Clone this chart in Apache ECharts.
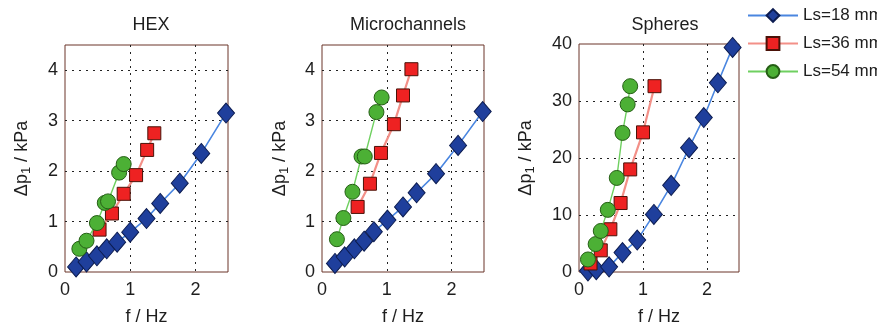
<!DOCTYPE html>
<html><head><meta charset="utf-8">
<script src="https://cdn.jsdelivr.net/npm/echarts@6/dist/echarts.min.js"></script>
<style>html,body{margin:0;padding:0;background:#fff}#c{width:877px;height:331px}</style>
</head><body><div id="c"></div>
<script>
// Panel titles and legend names
var panelTitles = ['HEX', 'Microchannels', 'Spheres'];
var seriesNames = ['Ls=18 mm', 'Ls=36 mm', 'Ls=54 mm'];

// HEX
var hexF18 = [0.17, 0.33, 0.49, 0.64, 0.80, 1.00, 1.25, 1.46, 1.76, 2.09, 2.47];
var hexP18 = [0.10, 0.20, 0.32, 0.46, 0.59, 0.79, 1.06, 1.36, 1.76, 2.35, 3.15];
var hexF36 = [0.53, 0.72, 0.90, 1.09, 1.26, 1.37];
var hexP36 = [0.84, 1.16, 1.55, 1.92, 2.42, 2.75];
var hexF54 = [0.22, 0.33, 0.49, 0.61, 0.66, 0.83, 0.90];
var hexP54 = [0.46, 0.62, 0.97, 1.37, 1.40, 1.97, 2.14];

// Microchannels
var micF18 = [0.20, 0.35, 0.50, 0.65, 0.80, 1.01, 1.25, 1.46, 1.76, 2.10, 2.48];
var micP18 = [0.17, 0.30, 0.46, 0.61, 0.80, 1.03, 1.29, 1.57, 1.95, 2.51, 3.18];
var micF36 = [0.55, 0.74, 0.91, 1.11, 1.25, 1.38];
var micP36 = [1.29, 1.75, 2.36, 2.93, 3.50, 4.02];
var micF54 = [0.23, 0.33, 0.47, 0.61, 0.66, 0.84, 0.92];
var micP54 = [0.65, 1.07, 1.59, 2.29, 2.29, 3.17, 3.46];

// Spheres
var sphF18 = [0.14, 0.27, 0.47, 0.68, 0.91, 1.17, 1.44, 1.72, 1.95, 2.17, 2.40];
var sphP18 = [0.2, 0.4, 0.9, 3.4, 5.6, 10.1, 15.2, 21.8, 27.1, 33.2, 39.4];
var sphF36 = [0.18, 0.34, 0.49, 0.65, 0.80, 1.00, 1.18];
var sphP36 = [1.5, 3.8, 7.5, 12.1, 18.0, 24.5, 32.6];
var sphF54 = [0.14, 0.26, 0.34, 0.45, 0.59, 0.68, 0.76, 0.80];
var sphP54 = [2.2, 4.9, 7.2, 10.9, 16.5, 24.4, 29.4, 32.6];

// Axis settings
var xMax = 2.5, xInterval = 1;
var yMaxes = [4.5, 4.5, 40];
var yIntervals = [1, 1, 10];

function pairs(xs, ys) { return xs.map(function (x, i) { return [x, ys[i]]; }); }

var panels = [
  [[hexF18, hexP18], [hexF36, hexP36], [hexF54, hexP54]],
  [[micF18, micP18], [micF36, micP36], [micF54, micP54]],
  [[sphF18, sphP18], [sphF36, sphP36], [sphF54, sphP54]]
];

var FONT = 'Liberation Sans, Arial, sans-serif';
var TXT = '#1e1e1e';
var gridBoxes = [
  {left: 65, top: 45, width: 163, height: 232},
  {left: 322, top: 45, width: 162, height: 232},
  {left: 579, top: 44, width: 160, height: 233}
];
var nameGaps = [32, 31, 42];
var titleCenters = [146, 403, 660];

var styles = [
  {symbol: 'diamond', size: [17, 20], fill: '#1f3f9c', border: '#0c1c50', line: '#4a86e0', lw: 1.6},
  {symbol: 'rect', size: 13, fill: '#ee2222', border: '#4a1208', line: '#f39088', lw: 2.2},
  {symbol: 'circle', size: 15, fill: '#4cb035', border: '#255f15', line: '#6fd060', lw: 1.4}
];

var grid = [], xAxis = [], yAxis = [], series = [], title = [];
for (var p = 0; p < 3; p++) {
  var g = gridBoxes[p];
  grid.push({left: g.left, top: g.top, width: g.width, height: g.height, show: true,
    borderColor: '#6a3428', borderWidth: 1, backgroundColor: '#fff'});
  xAxis.push({type: 'value', gridIndex: p, min: 0, max: xMax, interval: xInterval,
    name: 'f / Hz', nameLocation: 'middle', nameGap: 36,
    nameTextStyle: {fontFamily: FONT, fontSize: 18, color: TXT},
    axisLine: {show: false}, axisTick: {show: false},
    axisLabel: {fontFamily: FONT, fontSize: 18, color: TXT, margin: 9, showMaxLabel: false},
    splitLine: {show: true, showMinLine: false, showMaxLine: false,
      lineStyle: {color: '#222', type: [2, 5], width: 1}}});
  yAxis.push({type: 'value', gridIndex: p, min: 0, max: yMaxes[p], interval: yIntervals[p],
    name: 'Δp{sub|1} / kPa', nameLocation: 'middle', nameGap: nameGaps[p], nameRotate: 90,
    nameTextStyle: {fontFamily: FONT, fontSize: 18, color: TXT,
      rich: {sub: {fontFamily: FONT, fontSize: 13, color: TXT, padding: [9, 0, 0, 0]}}},
    axisLine: {show: false}, axisTick: {show: false},
    axisLabel: {fontFamily: FONT, fontSize: 18, color: TXT, margin: 7, showMaxLabel: p === 2},
    splitLine: {show: true, showMinLine: false, showMaxLine: false,
      lineStyle: {color: '#222', type: [2, 5], width: 1}}});
  title.push({text: panelTitles[p], left: titleCenters[p], top: 11, textAlign: 'center',
    textStyle: {fontFamily: FONT, fontSize: 18, fontWeight: 'normal', color: TXT}});
  for (var s = 0; s < 3; s++) {
    var st = styles[s];
    series.push({type: 'line', name: seriesNames[s], xAxisIndex: p, yAxisIndex: p,
      data: pairs(panels[p][s][0], panels[p][s][1]),
      symbol: st.symbol, symbolSize: st.size, showAllSymbol: true,
      lineStyle: {color: st.line, width: st.lw},
      itemStyle: {color: st.fill, borderColor: st.border, borderWidth: 1},
      z: 2 + s, animation: false});
  }
}

var chart = echarts.init(document.getElementById('c'), null, {renderer: 'canvas'});
chart.setOption({
  animation: false,
  backgroundColor: '#fff',
  title: title,
  grid: grid, xAxis: xAxis, yAxis: yAxis, series: series,
  legend: {data: seriesNames, orient: 'vertical', left: 747, top: 7, padding: 0,
    itemWidth: 50, itemHeight: 16, itemGap: 11,
    textStyle: {fontFamily: FONT, fontSize: 17, color: TXT}}
});
</script></body></html>
